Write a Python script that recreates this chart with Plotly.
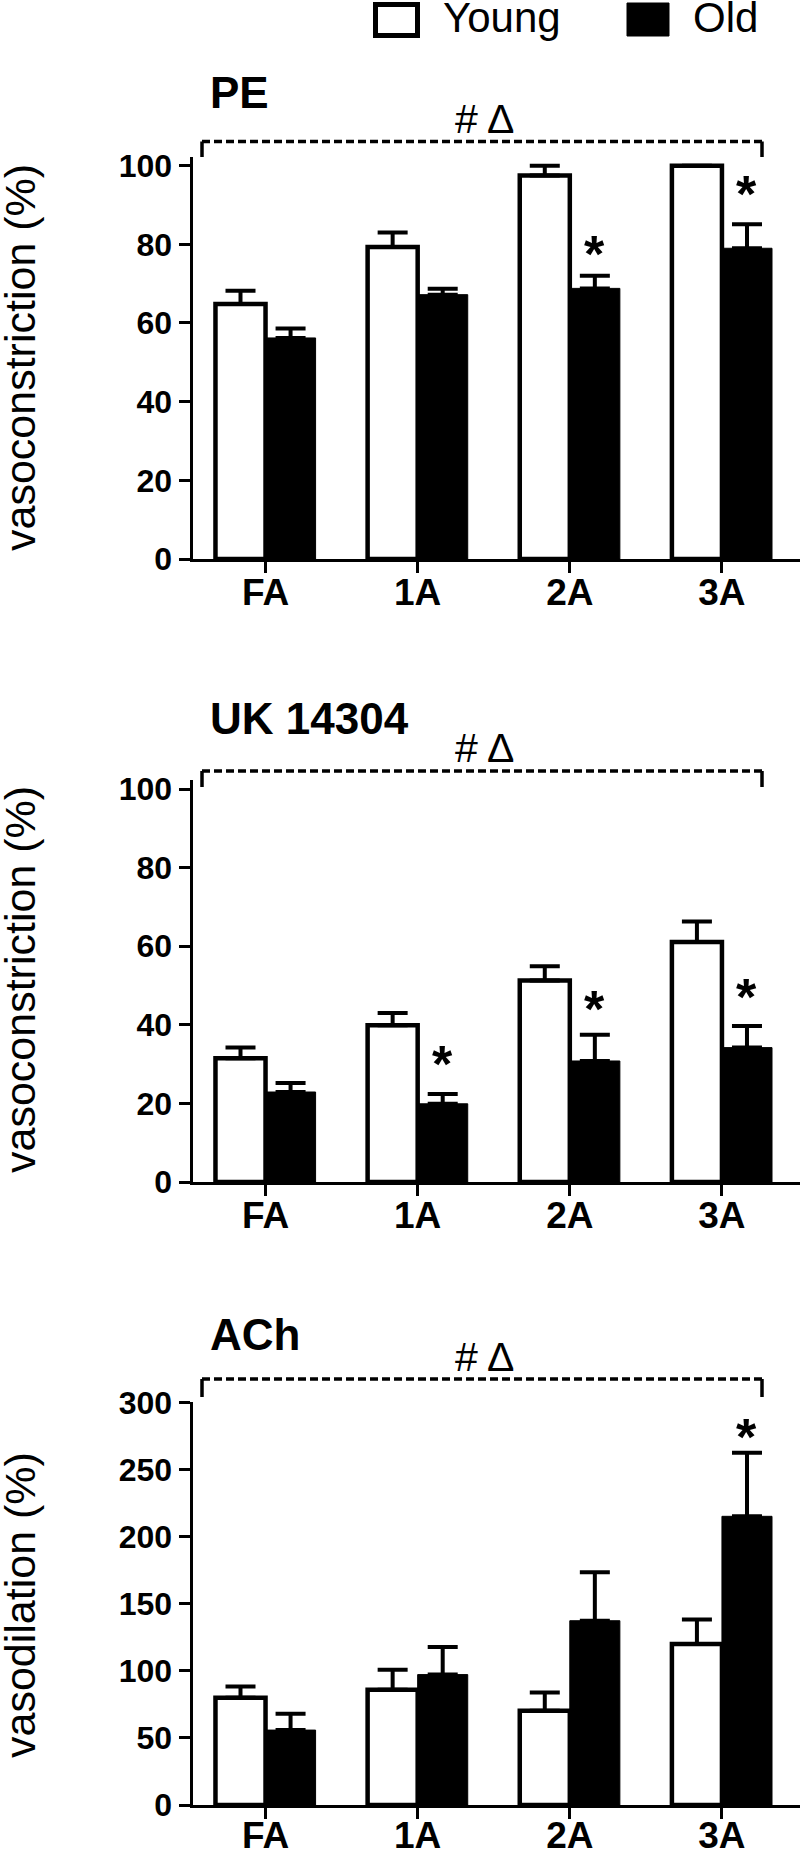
import plotly.graph_objects as go

# ---------------- data ----------------
categories = ["FA", "1A", "2A", "3A"]
series_names = ["Young", "Old"]

pe_young = [64.8, 79.3, 97.5, 100.0]
pe_young_err = [3.4, 3.7, 2.5, 0.0]
pe_old = [56.2, 67.2, 68.8, 79.0]
pe_old_err = [2.4, 1.5, 3.2, 6.1]
pe_star_y = [None, None, 79.0, 94.3]      # height of "*" above the Old bars

uk_young = [31.5, 39.9, 51.3, 61.1]
uk_young_err = [2.7, 3.1, 3.6, 5.2]
uk_old = [22.9, 19.9, 30.8, 34.2]
uk_old_err = [2.3, 2.5, 6.7, 5.5]
uk_star_y = [None, 31.5, 45.5, 48.5]

ach_young = [80.0, 86.0, 70.4, 120.2]
ach_young_err = [8.5, 15.0, 13.6, 18.2]
ach_old = [55.9, 97.3, 137.5, 215.4]
ach_old_err = [12.1, 20.5, 36.2, 47.4]
ach_star_y = [None, None, None, 279.0]

panel_titles = ["PE", "UK 14304", "ACh"]
y_titles = ["vasoconstriction (%)", "vasoconstriction (%)", "vasodilation (%)"]
group_label = "# Δ"
y_ticks = [[0, 20, 40, 60, 80, 100], [0, 20, 40, 60, 80, 100], [0, 50, 100, 150, 200, 250, 300]]

# ---------------- layout helpers ----------------
W, H = 800, 1854
FONT = "Liberation Sans, Arial, sans-serif"


def px_x(x):
    return x / W


def px_y(y):
    return 1 - y / H


BARGAP = 0.342
panels = [
    dict(young=pe_young, young_err=pe_young_err, old=pe_old, old_err=pe_old_err, star=pe_star_y,
         bottom=559, top=157, ymax=102.2, title_base=109, bracket=141.5,
         bracket_end=157, label_base=135, ytitle_c=358, lab_off=-12),
    dict(young=uk_young, young_err=uk_young_err, old=uk_old, old_err=uk_old_err, star=uk_star_y,
         bottom=1182, top=780, ymax=102.3, title_base=735, bracket=771,
         bracket_end=787, label_base=764, ytitle_c=980, lab_off=-12),
    dict(young=ach_young, young_err=ach_young_err, old=ach_old, old_err=ach_old_err, star=ach_star_y,
         bottom=1805, top=1402, ymax=300.7, title_base=1351, bracket=1379,
         bracket_end=1397, label_base=1373, ytitle_c=1605, lab_off=-15),
]

fig = go.Figure()
annotations = []
shapes = []

for i, p in enumerate(panels):
    sfx = "" if i == 0 else str(i + 1)
    xa, ya = "x" + sfx, "y" + sfx
    fig.add_trace(go.Bar(
        x=categories, y=p["young"], name=series_names[0], xaxis=xa, yaxis=ya,
        marker=dict(color="white", line=dict(color="black", width=4.5)),
        error_y=dict(type="data", symmetric=False, array=p["young_err"],
                     arrayminus=[0] * len(categories), color="black", thickness=4, width=15),
        showlegend=False, cliponaxis=False,
    ))
    fig.add_trace(go.Bar(
        x=categories, y=p["old"], name=series_names[1], xaxis=xa, yaxis=ya,
        marker=dict(color="black", line=dict(color="black", width=1)),
        error_y=dict(type="data", symmetric=False, array=p["old_err"],
                     arrayminus=[0] * len(categories), color="black", thickness=4, width=15),
        showlegend=False, cliponaxis=False,
    ))

    axis_common = dict(showline=True, linewidth=3, linecolor="black", ticks="outside",
                       ticklen=11, tickwidth=3, tickcolor="black", showgrid=False,
                       zeroline=False, automargin=False)
    fig.update_layout(**{
        ("xaxis" + sfx): dict(domain=[px_x(192.5), 1.0], range=[-0.48, 3.513], anchor=ya,
                              type="category", ticklabelstandoff=p["lab_off"],
                              tickfont=dict(family=FONT, size=37, color="black", weight="bold"),
                              **axis_common),
        ("yaxis" + sfx): dict(domain=[px_y(p["bottom"]), px_y(p["top"])], range=[0, p["ymax"]],
                              anchor=xa, tickvals=y_ticks[i],
                              tickfont=dict(family=FONT, size=32, color="black", weight="bold"),
                              **axis_common),
    })

    # significance asterisks above Old bars
    off = (1 - BARGAP) / 4
    for j, sy in enumerate(p["star"]):
        if sy is not None:
            annotations.append(dict(x=j + off, y=sy, xref=xa, yref=ya,
                                    text="*", showarrow=False, yanchor="bottom", yshift=-37,
                                    font=dict(family=FONT, size=52, color="black", weight="bold")))

    # panel title
    annotations.append(dict(x=px_x(208), y=px_y(p["title_base"] + 10), xref="paper", yref="paper",
                            text=panel_titles[i], showarrow=False, xanchor="left", yanchor="bottom",
                            font=dict(family=FONT, size=44, color="black", weight="bold")))
    # bracket label
    annotations.append(dict(x=px_x(484), y=px_y(p["label_base"] + 9), xref="paper", yref="paper",
                            text=group_label, showarrow=False, xanchor="center", yanchor="bottom",
                            font=dict(family=FONT, size=41, color="black")))
    # y-axis title
    annotations.append(dict(x=px_x(20), y=px_y(p["ytitle_c"]), xref="paper", yref="paper",
                            text=y_titles[i], showarrow=False, textangle=-90,
                            xanchor="center", yanchor="middle",
                            font=dict(family=FONT, size=43, color="black")))
    # dashed bracket
    shapes.append(dict(type="line", xref="paper", yref="paper",
                       x0=px_x(202), x1=px_x(762), y0=px_y(p["bracket"]), y1=px_y(p["bracket"]),
                       line=dict(color="black", width=3.5, dash="8px,4px")))
    for bx in (202, 762):
        shapes.append(dict(type="line", xref="paper", yref="paper",
                           x0=px_x(bx), x1=px_x(bx), y0=px_y(p["bracket"]),
                           y1=px_y(p["bracket_end"]),
                           line=dict(color="black", width=3.5)))

# legend (drawn manually)
shapes.append(dict(type="rect", xref="paper", yref="paper",
                   x0=px_x(375.5), x1=px_x(417.5), y0=px_y(35.5), y1=px_y(4.5),
                   line=dict(color="black", width=5), fillcolor="white"))
shapes.append(dict(type="rect", xref="paper", yref="paper",
                   x0=px_x(627), x1=px_x(669), y0=px_y(36), y1=px_y(3),
                   line=dict(color="black", width=1), fillcolor="black"))
annotations.append(dict(x=px_x(441), y=px_y(43), xref="paper", yref="paper", text=series_names[0],
                        showarrow=False, xanchor="left", yanchor="bottom",
                        font=dict(family=FONT, size=42, color="black")))
annotations.append(dict(x=px_x(691), y=px_y(43), xref="paper", yref="paper", text=series_names[1],
                        showarrow=False, xanchor="left", yanchor="bottom",
                        font=dict(family=FONT, size=42, color="black")))

fig.update_layout(
    width=W, height=H, margin=dict(l=0, r=0, t=0, b=0, autoexpand=False),
    paper_bgcolor="white", plot_bgcolor="white",
    barmode="group", bargap=BARGAP, bargroupgap=0,
    annotations=annotations, shapes=shapes, showlegend=False,
)

# remove the default page margin so the 800x1854 figure fills the window exactly
page_js = ("document.documentElement.style.margin='0';document.body.style.margin='0';"
           "document.documentElement.style.overflow='hidden';document.body.style.overflow='hidden';")
fig.write_html("out.html", post_script=page_js, config={"displayModeBar": False})
